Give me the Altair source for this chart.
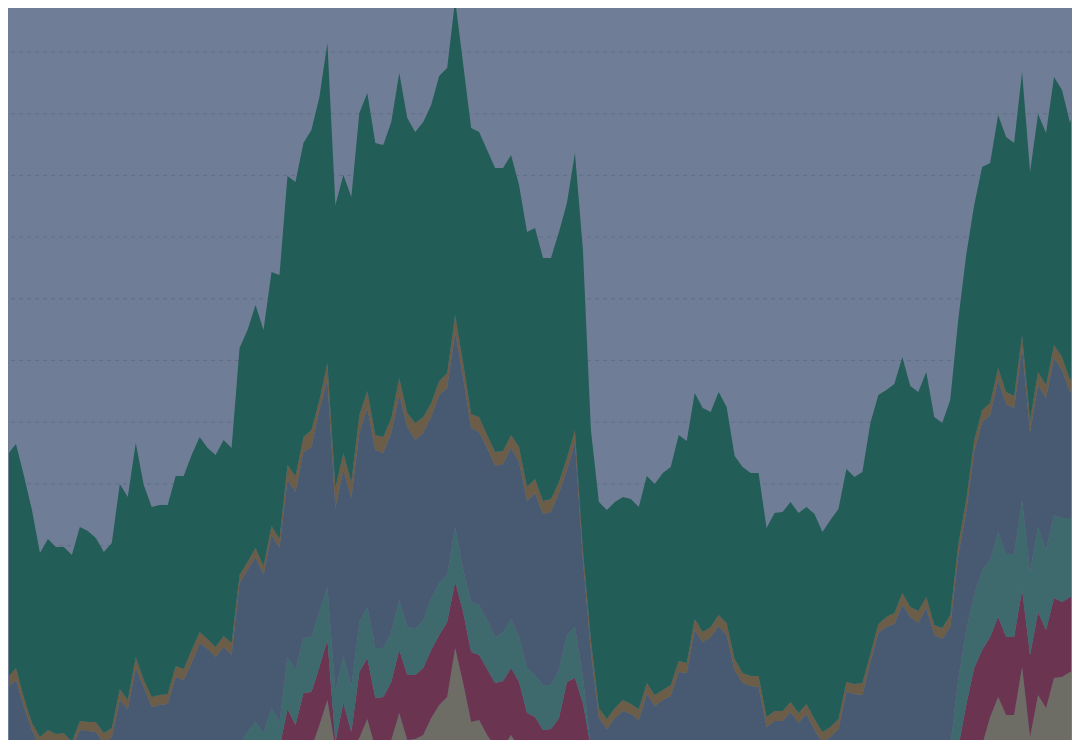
import altair as alt
import pandas as pd

SERIES = ["Stone", "Wine", "Teal", "Slate", "Bronze", "Pine"]
COLORS = ["#6d6d66", "#6b3551", "#3e6a6d", "#485a72", "#6b5d48", "#235d57"]

stone = [0]*40 + [23, 48, 0, 0, 0, 10, 29, 0, 0, 8, 35, 8, 9, 13, 30, 43, 51, 100, 65, 26,
         28, 13, 1, 0, 13, 0, 0, 0, 0, 0, 0, 0, 5, 0] + [0]*49 + \
        [3, 31, 51, 33, 33, 81, 11, 53, 40, 70, 71, 76, 80]
wine = [0]*36 + [39, 23, 55, 56, 58, 60, 6, 45, 16, 66, 61, 50, 51, 58, 63, 65, 64, 67, 68, 70,
        75, 66, 71, 70, 65, 66, 64, 67, 67, 66, 35, 31, 18, 19, 30, 66, 65, 45] + [0]*47 + \
       [43, 80, 95, 80, 80, 78, 78, 77, 82, 83, 78, 80, 75, 75, 78]
teal = [0]*30 + [3, 16, 26, 15, 40, 26, 52, 55, 55, 55, 55, 53, 50, 47, 45, 50, 51, 50, 49, 50,
        50, 48, 46, 48, 52, 52, 47, 55, 42, 50, 50, 49, 46, 48, 49, 45, 45, 42, 45, 44,
        48, 47, 51, 26] + [0]*39 + [8] + [0]*6 + \
       [68, 75, 73, 80, 77, 85, 83, 83, 90, 83, 85, 80, 83, 84, 79, 78]
slate = [23, 61, 68, 41, 18, 2, 9, 5, 5, 0, 18, 17, 16, 5, 11, 48, 39, 80, 61, 41,
         43, 44, 71, 68, 85, 105, 99, 91, 101, 93, 162, 162, 165, 158, 173, 174, 177, 178, 186, 190,
         202, 207, 184, 186, 189, 189, 199, 198, 195, 199, 205, 200, 189, 187, 181, 188, 187, 195, 192, 174,
         173, 172, 171, 169, 171, 175, 167, 182, 171, 173, 177, 165, 184, 117, 96, 30, 19, 30, 37, 34,
         28, 54, 42, 48, 52, 76, 75, 118, 106, 111, 122, 113, 78, 65, 62, 61, 21, 27, 27, 36,
         25, 34, 18, 6, 11, 19, 56, 54, 53, 86, 115, 121, 124, 135, 131, 125, 140, 113, 109, 121,
         124, 118, 143, 148, 145, 152, 150, 146, 152, 140, 142, 152, 157, 148, 126, 134]
bronze = [7, 10, 12, 9, 7, 9, 9, 9, 10, 6, 9, 9, 10, 10, 9, 11, 9, 11, 7, 10,
          10, 10, 11, 11, 13, 11, 10, 10, 11, 12, 8, 8, 9, 9, 9, 9, 15, 16, 15, 17,
          10, 17, 20, 17, 16, 18, 17, 15, 16, 15, 17, 14, 17, 16, 14, 14, 15, 17, 15, 14,
          15, 13, 14, 13, 13, 15, 14, 14, 13, 13, 11, 12, 13, 10, 12, 10, 10, 10, 11, 10,
          11, 11, 11, 10, 11, 11, 10, 11, 10, 10, 11, 12, 11, 10, 10, 11, 10, 10, 10, 10,
          10, 10, 11, 10, 10, 10, 10, 10, 12, 8, 9, 10, 11, 12, 10, 12, 11, 10, 11, 12,
          11, 12, 12, 12, 12, 12, 12, 12, 13, 12, 13, 13, 13, 13, 12, 13]
pine = [205, 223, 224, 222, 213, 184, 191, 187, 186, 187, 194, 191, 184, 181, 185, 205, 203, 214, 195, 190,
        190, 189, 190, 193, 195, 195, 191, 192, 196, 195, 227, 232, 243, 236, 254, 264, 289, 294, 294, 300,
        303, 320, 283, 278, 285, 302, 298, 292, 292, 296, 305, 295, 291, 295, 298, 305, 305, 315, 299, 286,
        285, 285, 284, 283, 280, 262, 255, 251, 243, 241, 250, 255, 277, 300, 210, 206, 209, 206, 203, 205,
        202, 207, 211, 217, 218, 226, 222, 226, 224, 215, 223, 216, 203, 206, 203, 203, 189, 198, 199, 200,
        200, 197, 205, 200, 207, 210, 213, 207, 211, 231, 229, 227, 229, 236, 221, 219, 225, 208, 205, 215,
        225, 245, 235, 243, 240, 253, 255, 253, 263, 248, 258, 252, 268, 267, 257, 272]

GRID = [696, 634.3, 572.6, 510.9, 449.2, 387.5, 325.8, 264.1, 202.4, 140.7, 79, 17.3]

values = [stone, wine, teal, slate, bronze, pine]
rows = []
for k, (name, vals) in enumerate(zip(SERIES, values)):
    for i, v in enumerate(vals):
        rows.append({"idx": i, "series": name, "k": k, "value": v})
df = pd.DataFrame(rows)
grid_df = pd.DataFrame({"g": GRID})

xscale = alt.Scale(domain=[1.125, 134.125], nice=False, zero=False)
yscale = alt.Scale(domain=[8, 740], nice=False, zero=False)

grid = alt.Chart(grid_df).mark_rule(
    color="#606e87", strokeWidth=1, strokeDash=[4, 4]
).encode(
    y=alt.Y("g:Q", scale=yscale, axis=None)
)

areas = alt.Chart(df).mark_area(clip=True, interpolate="linear").encode(
    x=alt.X("idx:Q", scale=xscale, axis=None),
    y=alt.Y("value:Q", stack="zero", scale=yscale, axis=None),
    color=alt.Color("series:N", scale=alt.Scale(domain=SERIES, range=COLORS), legend=None),
    order=alt.Order("k:Q", sort="ascending"),
)

chart = alt.layer(grid, areas).properties(
    width=1064, height=732, padding=0, background="#6f7e96",
    autosize=alt.AutoSizeParams(type="fit", contains="padding"),
).configure_view(stroke=None, fill="#6f7e96")

chart.save("out.html", embed_options={"renderer": "svg", "actions": False})
